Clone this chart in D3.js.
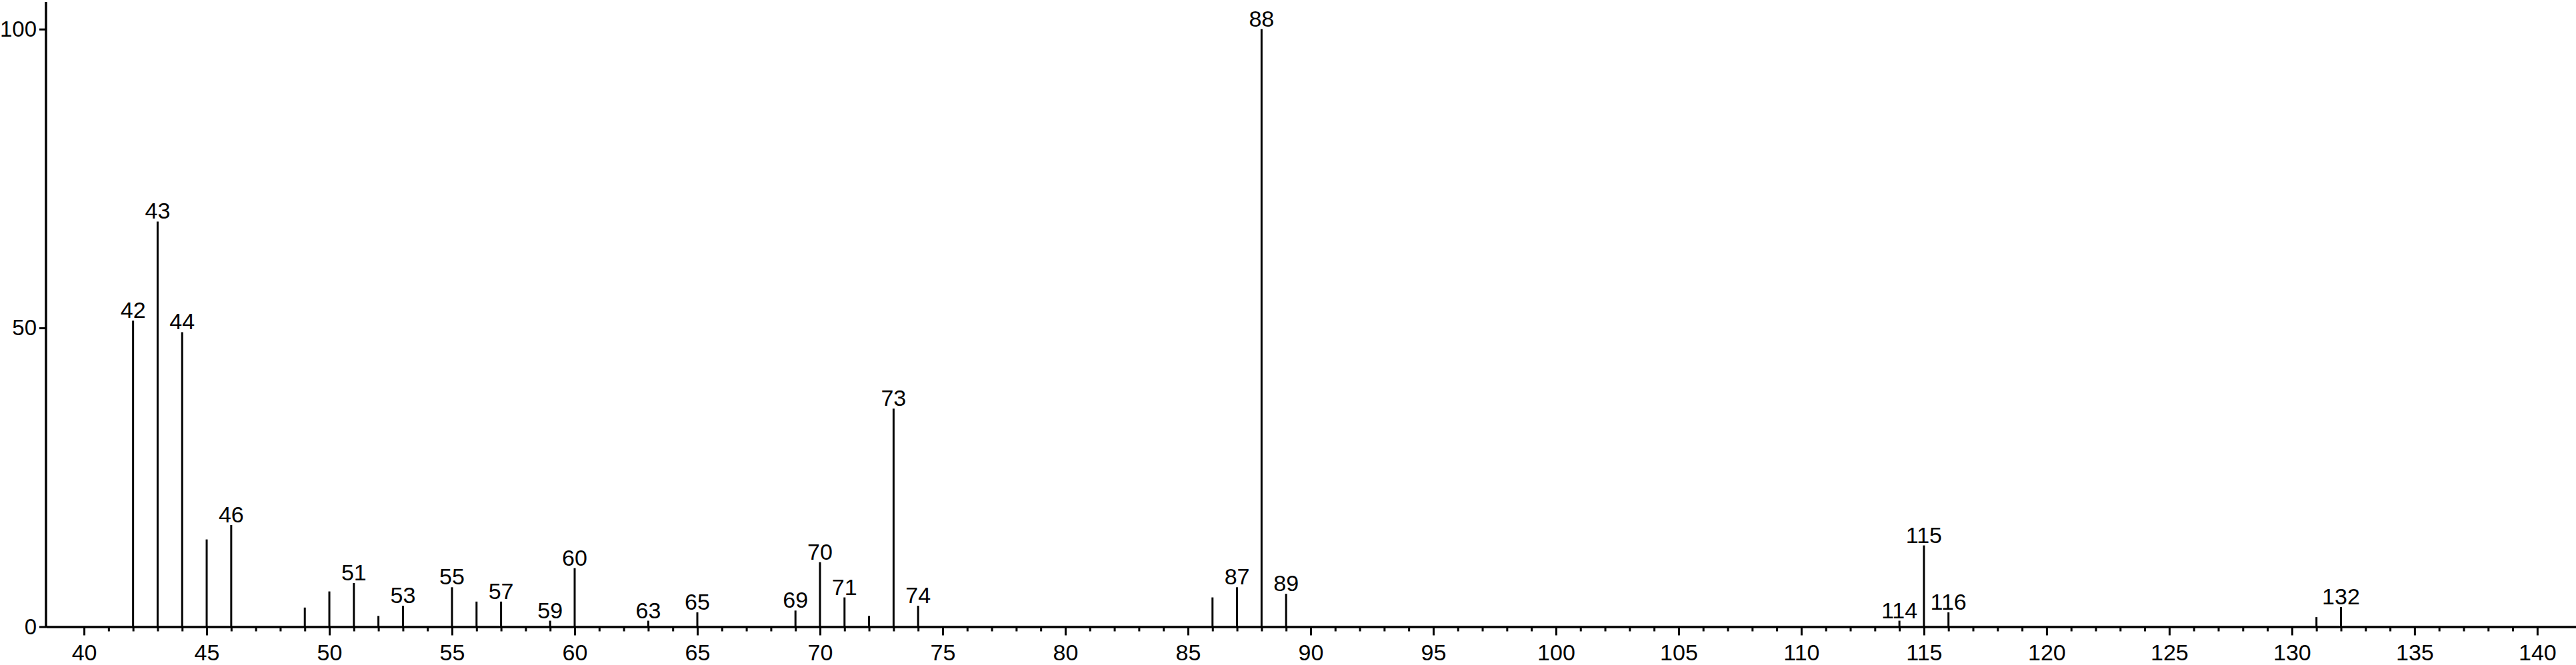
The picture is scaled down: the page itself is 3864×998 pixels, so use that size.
<!DOCTYPE html>
<html lang="en">
<meta charset="utf-8">
<head>
    <script src="https://d3js.org/d3.v7.min.js"></script>
    <style>
      body { margin: 0; background: #fff; }
      text { font-family: "Liberation Sans", Arial, sans-serif; fill: #000; }
    </style>
</head>
<body>
<svg id="spectrum"></svg>

<script>
// peaks (m/z and relative intensity)
var mz        = [42, 43, 44, 45, 46, 49, 50, 51, 52, 53, 55, 56, 57, 59, 60, 63, 65,
                 69, 70, 71, 72, 73, 74, 86, 87, 88, 89, 114, 115, 116, 131, 132];
var intensity = [51.2, 67.8, 49.3, 14.6, 17.0, 3.2, 5.9, 7.3, 1.8, 3.5, 6.6, 4.2, 4.2, 1.0, 9.8, 1.0, 2.4,
                 2.7, 10.8, 4.9, 1.8, 36.5, 3.5, 4.9, 6.6, 100, 5.5, 1.0, 13.6, 2.4, 1.6, 3.3];
// peaks that carry a m/z label
var labelled  = [42, 43, 44, 46, 51, 53, 55, 57, 59, 60, 63, 65, 69, 70, 71, 73, 74,
                 87, 88, 89, 114, 115, 116, 132];

var majorTicks = d3.range(40, 141, 5);
var minorTicks = d3.range(41, 140, 1).filter(function(d) { return d % 5 != 0; });
var yTicks = [0, 50, 100];

var width = 3864,
    height = 998;

var svg = d3.select("svg#spectrum")
    .attr("width", width)
    .attr("height", height);

var x = d3.scaleLinear()
    .domain([38.45, 141.58])
    .range([69, 3864]);

var y = d3.scaleLinear()
    .domain([0, 100])
    .range([940.5, 43.7]);

var peaks = mz.map(function(d, i) { return { mz: d, v: intensity[i] }; });

// minor ticks (no labels)
svg.append("g")
    .attr("transform", "translate(0," + y(0) + ")")
    .call(d3.axisBottom(x).tickValues(minorTicks).tickSize(7).tickSizeOuter(0).tickFormat(""))
    .call(function(g) { g.select(".domain").remove(); })
    .selectAll("line").attr("stroke-width", 3);

// major ticks + labels
var xAxis = svg.append("g")
    .attr("transform", "translate(0," + y(0) + ")")
    .call(d3.axisBottom(x).tickValues(majorTicks).tickSize(13).tickSizeOuter(0).tickPadding(13));
xAxis.select(".domain").attr("stroke-width", 3.5);
xAxis.selectAll("line").attr("stroke-width", 3);
xAxis.selectAll("text").attr("font-size", 34);

// y axis
var yAxis = svg.append("g")
    .attr("transform", "translate(69,0)")
    .call(d3.axisLeft(y).tickValues(yTicks).tickSize(10).tickSizeOuter(0).tickPadding(4));
yAxis.select(".domain").remove();
yAxis.selectAll("line").attr("stroke-width", 3);
yAxis.selectAll("text").attr("font-size", 33);
yAxis.append("line")
    .attr("x1", 0).attr("x2", 0)
    .attr("y1", 3).attr("y2", y(0) + 1.5)
    .attr("stroke", "#000")
    .attr("stroke-width", 3.5);

// sticks
svg.append("g")
  .selectAll("line")
  .data(peaks)
  .enter()
  .append("line")
    .attr("x1", function(d) { return x(d.mz); })
    .attr("x2", function(d) { return x(d.mz); })
    .attr("y1", y(0))
    .attr("y2", function(d) { return y(d.v); })
    .attr("stroke", "#000")
    .attr("stroke-width", 3);

// peak labels
svg.append("g")
  .selectAll("text")
  .data(peaks.filter(function(d) { return labelled.indexOf(d.mz) >= 0; }))
  .enter()
  .append("text")
    .attr("x", function(d) { return x(d.mz); })
    .attr("y", function(d) { return y(d.v) - 4; })
    .attr("text-anchor", "middle")
    .attr("font-size", 34)
    .text(function(d) { return d.mz; });
</script>
</body>
</html>
